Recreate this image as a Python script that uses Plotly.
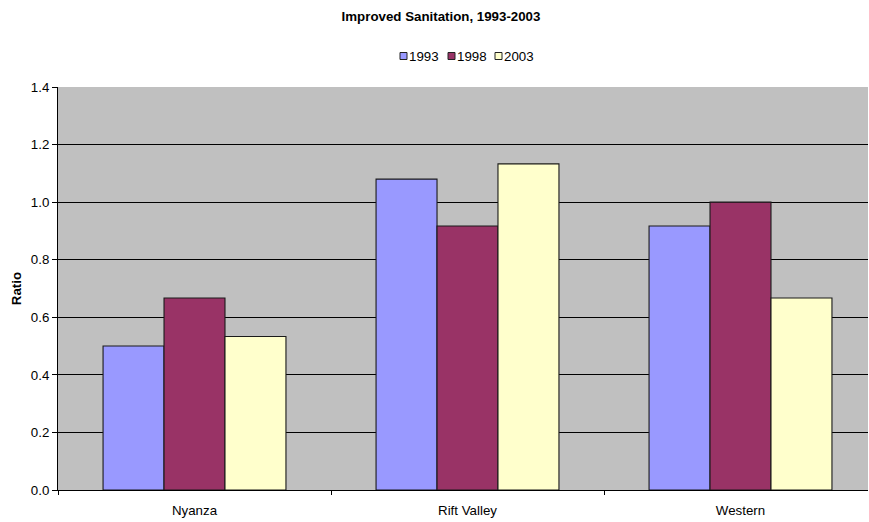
import plotly.graph_objects as go

regions = ["Nyanza", "Rift Valley", "Western"]
years = ["1993", "1998", "2003"]
ratio_1993 = [0.500, 1.080, 0.917]
ratio_1998 = [0.667, 0.917, 1.000]
ratio_2003 = [0.533, 1.133, 0.667]
y_ticks = [0.0, 0.2, 0.4, 0.6, 0.8, 1.0, 1.2, 1.4]

series = [ratio_1993, ratio_1998, ratio_2003]
colors = ["#9999FF", "#993366", "#FFFFCC"]

W, H = 869, 522
ML, MR, MT, MB = 58, 1, 87, 32
PW, PH = W - ML - MR, H - MT - MB
FS = 13.3
font = "Liberation Sans, Arial, sans-serif"


def px_x(px):
    return (px - ML) / PW


def px_y(py):
    return (H - MB - py) / PH


fig = go.Figure()
for name, vals, col in zip(years, series, colors):
    fig.add_trace(go.Bar(
        x=regions, y=vals, name=name, showlegend=False,
        marker=dict(color=col, line=dict(color="#1a1a1a", width=1.1)),
    ))

# compact legend: small framed swatches followed by the year
legend_left = [400, 448, 495]
for name, col, x0 in zip(years, colors, legend_left):
    fig.add_shape(type="rect", xref="paper", yref="paper",
                  x0=px_x(x0), x1=px_x(x0 + 7), y0=px_y(59.5), y1=px_y(52.5),
                  fillcolor=col, line=dict(color="#222", width=1))
    fig.add_annotation(text=name, xref="paper", yref="paper",
                       x=px_x(x0 + 8), y=px_y(56), xanchor="left", yanchor="middle",
                       showarrow=False, font=dict(size=FS), borderpad=0)

fig.update_layout(
    width=W, height=H,
    margin=dict(l=ML, r=MR, t=MT, b=MB),
    paper_bgcolor="white",
    plot_bgcolor="#C0C0C0",
    font=dict(family=font, size=FS, color="black"),
    barmode="group",
    bargap=0.33,
    bargroupgap=0,
    title=dict(text="<b>Improved Sanitation, 1993-2003</b>",
               x=441 / W, xref="container", xanchor="center",
               y=1 - 16 / H, yref="container", yanchor="middle",
               font=dict(size=FS, family=font)),
)
# category width chosen so the third group runs past the right edge
fig.update_xaxes(
    type="category", range=[-0.5, -0.5 + PW / 273],
    showline=True, linecolor="black", linewidth=1,
    ticks="outside", tickson="boundaries", ticklen=4, tickcolor="black",
    showgrid=False, tickfont=dict(size=FS), ticklabelstandoff=8,
)
fig.update_yaxes(
    range=[0, 1.4], tickvals=y_ticks, tickformat=".1f",
    showline=True, linecolor="black", linewidth=1,
    ticks="outside", ticklen=5, tickcolor="black",
    showgrid=True, gridcolor="black", gridwidth=1, zeroline=False,
    title=dict(text="<b>Ratio</b>", font=dict(size=FS), standoff=6),
    tickfont=dict(size=FS),
)

fig.write_html("out.html")
